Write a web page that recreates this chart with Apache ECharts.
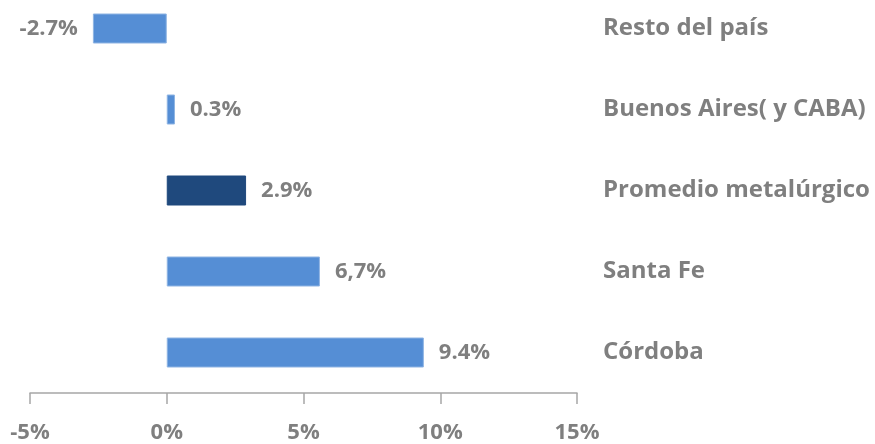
<!DOCTYPE html>
<html>
<head>
<meta charset="utf-8">
<script src="https://cdn.jsdelivr.net/npm/echarts@6/dist/echarts.min.js"></script>
<style>
  html, body { margin: 0; padding: 0; background: #fff; overflow: hidden; }
  /* shifted up so the top band starts above the page edge, like the original */
  #chart { width: 875px; height: 456px; margin-top: -12px; }
</style>
</head>
<body>
<div id="chart"></div>
<script>
// bottom-to-top order on the category axis
const regions = ['Córdoba', 'Santa Fe', 'Promedio metalúrgico', 'Buenos Aires( y CABA)', 'Resto del país']
const values = [9.4, 5.6, 2.9, 0.3, -2.7]
const labels = ['9.4%', '6,7%', '2.9%', '0.3%', '-2.7%']
const highlight = 'Promedio metalúrgico'

const gray = '#7f7f7f'
const font = '"Open Sans", sans-serif'

const chart = echarts.init(document.getElementById('chart'))
chart.setOption({
  animation: false,
  grid: {
    left: 30,
    right: 298,
    top: 0,
    bottom: 45,
    containLabel: false
  },
  xAxis: {
    type: 'value',
    min: -5,
    max: 15,
    interval: 5,
    splitLine: { show: false },
    axisLine: { show: true, lineStyle: { color: '#a6a6a6', width: 1.5 } },
    axisTick: { show: true, length: 11, lineStyle: { color: '#a6a6a6', width: 1.5 } },
    axisLabel: {
      formatter: '{value}%',
      color: gray,
      fontFamily: font,
      fontWeight: 'bold',
      fontSize: 22,
      margin: 29
    }
  },
  yAxis: {
    type: 'category',
    position: 'right',
    data: regions,
    axisLine: { show: false },
    axisTick: { show: false },
    axisLabel: {
      color: gray,
      fontFamily: font,
      fontWeight: 'bold',
      fontSize: 24,
      margin: 26,
      align: 'left'
    }
  },
  series: [
    {
      type: 'bar',
      barWidth: 30,
      data: values.map((v, i) => ({
        value: v,
        itemStyle: {
          color: regions[i] === highlight ? '#1f497d' : '#558ed5',
          borderColor: regions[i] === highlight ? '#1f497d' : '#8fb4e3',
          borderWidth: 1
        },
        label: {
          position: v < 0 ? 'left' : 'right'
        }
      })),
      label: {
        show: true,
        distance: 15,
        color: gray,
        fontFamily: font,
        fontWeight: 'bold',
        fontSize: 22,
        formatter: p => labels[p.dataIndex]
      }
    }
  ]
})
</script>
</body>
</html>
